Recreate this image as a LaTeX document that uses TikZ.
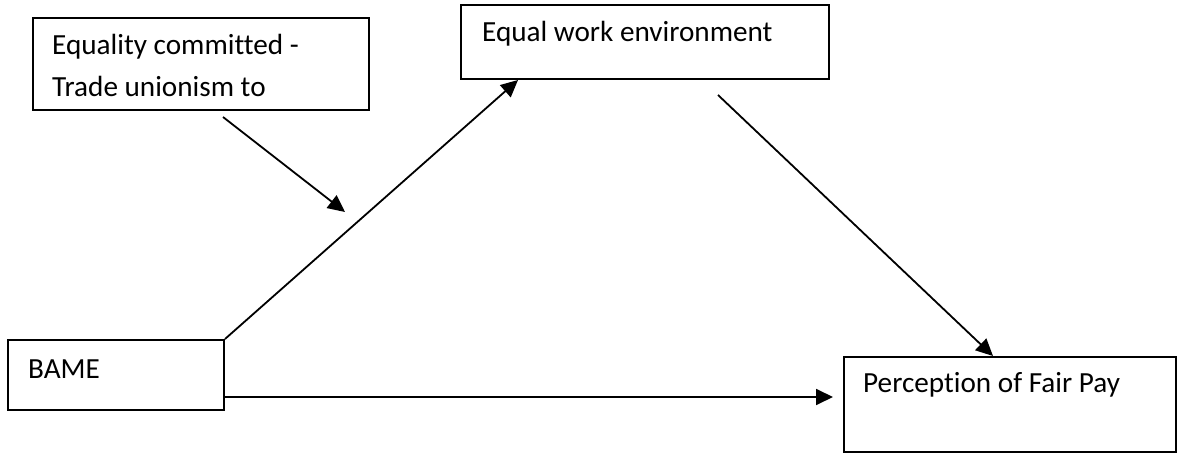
\documentclass[tikz,border=0pt]{standalone}
\usepackage{fontspec}
\setmainfont[Ligatures=NoCommon]{Carlito}
\usetikzlibrary{arrows.meta,calc}
\begin{document}
\begin{tikzpicture}[x=1pt,y=-1pt,
  box/.style={draw=black,line width=2pt,rectangle,inner sep=0pt,anchor=north west},
  txt/.style={inner sep=0pt,anchor=base west,align=left,font=\fontsize{29.2}{42}\selectfont},
  conn/.style={line width=1.8pt,-{Triangle[length=17pt,width=16pt]}}]
\useasboundingbox (0,0) rectangle (1180,454);
% boxes
\node[box,minimum width=336pt,minimum height=92pt] (b1) at (32,17) {};
\node[box,minimum width=368pt,minimum height=74pt] (b2) at (460,4) {};
\node[box,minimum width=216pt,minimum height=70pt] (b3) at (7,339) {};
\node[box,minimum width=332pt,minimum height=95pt] (b4) at (843,356) {};
% texts
\node[txt] (t1) at (52,97) {Equality committed -\\Trade unionism to};
\node[txt] (t2) at (482,42) {Equal work environment};
\node[txt] (t3) at (28,378) {BAME};
\node[txt] (t4) at (863,392) {Perception of Fair Pay};
% free ends
\coordinate (m1) at (223,117);
\coordinate (m2) at (345,212);
\coordinate (e1) at (718,95);
\coordinate (h1) at (833,397);
% connectors
\draw[conn] (b3.north east) -- (b2.south west -| 518,0);
\draw[conn] (m1) -- (m2);
\draw[conn] (e1) -- (b4.north west -| 993,0);
\draw[conn] (b3.east |- h1) -- (h1);
\end{tikzpicture}
\end{document}
